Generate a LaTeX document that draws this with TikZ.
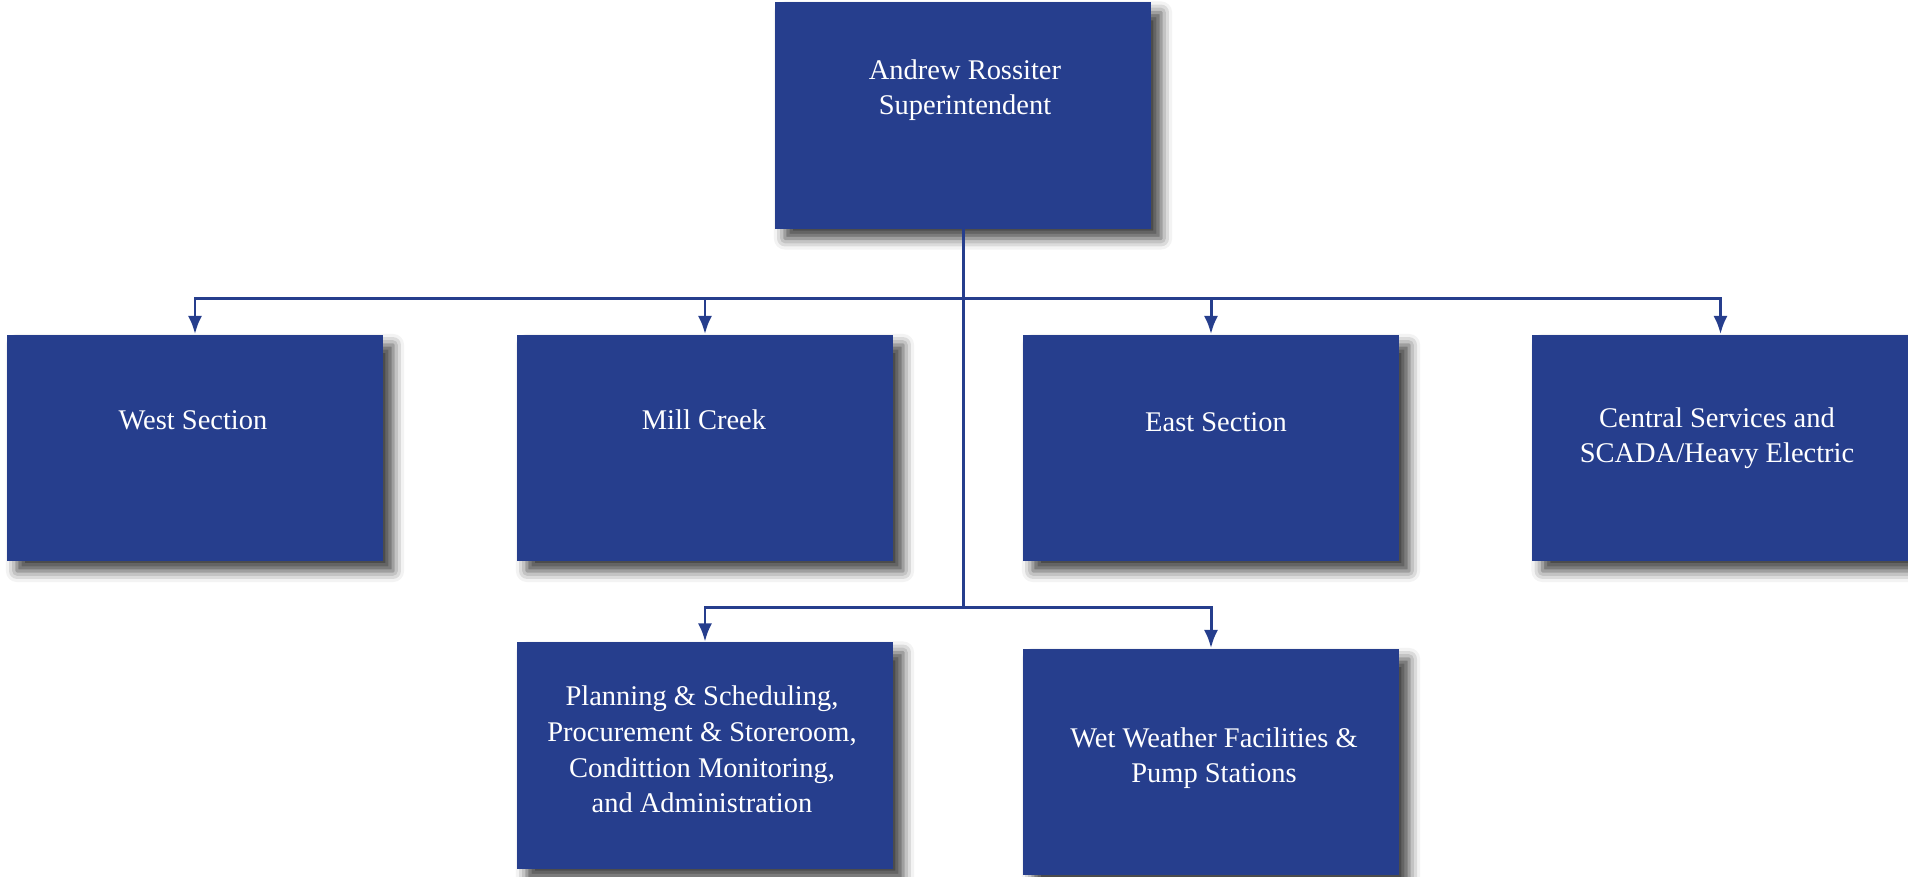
\documentclass[tikz,border=0pt]{standalone}
\usepackage{fontspec}
\setmainfont{Liberation Serif}
\usetikzlibrary{arrows.meta,shadows.blur}
\definecolor{orgblue}{RGB}{38,62,141}
\tikzset{
  box/.style={fill=orgblue, minimum width=3.76cm, minimum height=2.26cm, inner sep=0pt,
    blur shadow={shadow xshift=0.1cm, shadow yshift=-0.1cm, shadow blur radius=0.11cm, shadow opacity=75}},
  boxtext/.style={text=white, align=center, anchor=base, font=\fontsize{8.1}{10.2}\selectfont},
  link/.style={orgblue, line width=0.85pt},
  arrowlink/.style={link, -{Latex[length=5.2pt,width=4pt]}}
}
\begin{document}
\begin{tikzpicture}[x=0.01cm,y=-0.01cm]
  \useasboundingbox (0,0) rectangle (1908,877);
  % Define boxes
  \node[box] (super) at (963,115.5) {};
  \node[box] (west) at (195,448) {};
  \node[box] (mill) at (705,448) {};
  \node[box] (east) at (1211,448) {};
  \node[box] (central) at (1720.5,448) {};
  \node[box] (plan) at (705,755.5) {};
  \node[box] (wet) at (1211,762) {};
  % Texts (anchored at last baseline)
  \node[boxtext] (super-t) at (965,115) {Andrew Rossiter\\Superintendent};
  \node[boxtext] (west-t) at (193,430) {West Section};
  \node[boxtext] (mill-t) at (704,430) {Mill Creek};
  \node[boxtext] (east-t) at (1216,432) {East Section};
  \node[boxtext] (central-t) at (1717,463) {Central Services and\\SCADA/Heavy Electric};
  \node[boxtext] (plan-t) at (702,813) {Planning \& Scheduling,\\Procurement \& Storeroom,\\Condittion Monitoring,\\and Administration};
  \node[boxtext] (wet-t) at (1214,783) {Wet Weather Facilities \&\\Pump Stations};
  % Connectors
  \coordinate (bus) at (963,299);
  \coordinate (busb) at (963,608);
  \draw[link] (super) -- (busb);
  \draw[arrowlink] (bus) -| (west);
  \draw[arrowlink] (bus) -| (mill);
  \draw[arrowlink] (bus) -| (east);
  \draw[arrowlink] (bus) -| (central);
  \draw[arrowlink] (busb) -| (plan);
  \draw[arrowlink] (busb) -| (wet);
\end{tikzpicture}
\end{document}
